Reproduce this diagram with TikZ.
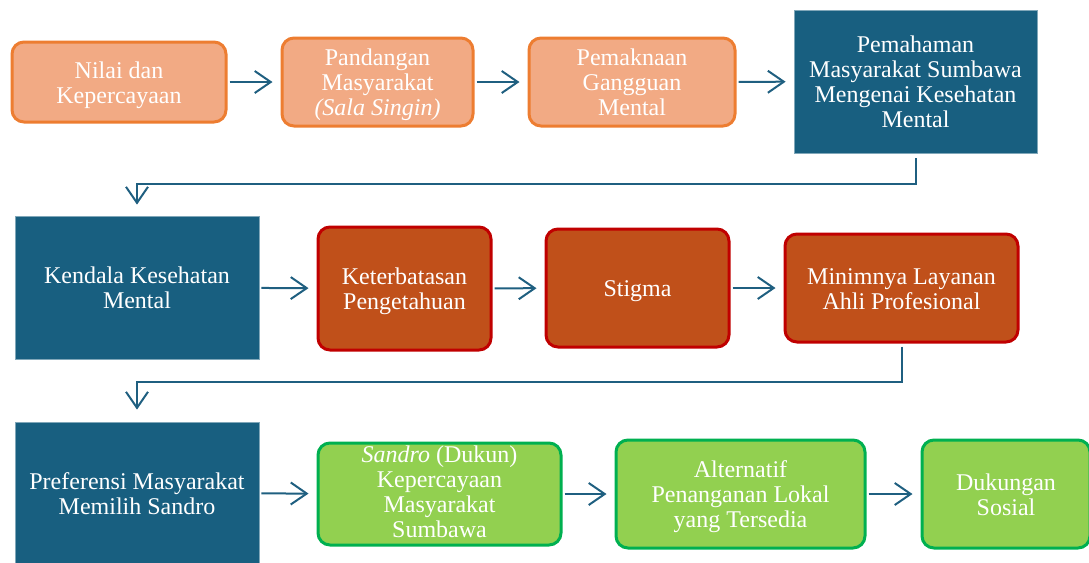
\documentclass[tikz,border=0pt]{standalone}
\usepackage{fontspec}
\setmainfont{Liberation Serif}
\usetikzlibrary{arrows.meta}
\definecolor{deepblue}{HTML}{185F80}
\definecolor{arrowblue}{HTML}{1F5F80}
\definecolor{peach}{HTML}{F2AA84}
\definecolor{peachline}{HTML}{ED7D31}
\definecolor{rust}{HTML}{C0501A}
\definecolor{rustline}{HTML}{C00000}
\definecolor{leaf}{HTML}{92D050}
\definecolor{leafline}{HTML}{00B050}
\newcommand{\boxlabel}[2][3.5pt]{\raisebox{0pt}[\dimexpr\height+#1\relax][\depth]{\begin{tabular}{@{}c@{}}#2\end{tabular}}}

\begin{document}
\begin{tikzpicture}[x=0.5pt,y=-0.5pt]
\tikzset{
  every node/.style={font=\fontsize{12}{12.5}\selectfont, text=white, align=center, inner sep=0pt},
  peachbox/.style={draw=peachline, fill=peach, line width=1.5pt, rounded corners=6pt},
  rustbox/.style={draw=rustline, fill=rust, line width=1.5pt, rounded corners=6pt},
  leafbox/.style={draw=leafline, fill=leaf, line width=1.5pt, rounded corners=6pt},
  bluebox/.style={draw=deepblue!55!white, fill=deepblue, line width=0.4pt},
  flow/.style={draw=arrowblue, line width=1pt, -{Straight Barb[length=8pt,width=11pt,line width=1pt]}, shorten <=1pt, shorten >=4pt}
}
\useasboundingbox (0,0) rectangle (1089,563);
% baris pertama
\node[peachbox, minimum width=107pt, minimum height=40pt] (nilai) at (119,82) {\boxlabel{Nilai dan\\Kepercayaan}};
\node[peachbox, minimum width=95.5pt, minimum height=44pt] (pandangan) at (377.5,82) {\boxlabel{Pandangan\\Masyarakat\\\textit{(Sala Singin)}}};
\node[peachbox, minimum width=103pt, minimum height=44pt] (makna) at (632,82) {\boxlabel{Pemaknaan\\Gangguan\\Mental}};
\node[bluebox, minimum width=121.5pt, minimum height=71.5pt] (paham) at (915.5,81.5) {\boxlabel{Pemahaman\\Masyarakat Sumbawa\\Mengenai Kesehatan\\Mental}};
% baris kedua
\node[bluebox, minimum width=122pt, minimum height=71.5pt] (kendala) at (137,287.5) {\boxlabel{Kendala Kesehatan\\Mental}};
\node[rustbox, minimum width=86.5pt, minimum height=61.5pt] (batas) at (404.5,288.5) {\boxlabel{Keterbatasan\\Pengetahuan}};
\node[rustbox, minimum width=91.5pt, minimum height=59pt] (stigma) at (637.5,288) {\boxlabel{Stigma}};
\node[rustbox, minimum width=116.5pt, minimum height=54pt] (layanan) at (901.5,288) {\boxlabel{Minimnya Layanan\\Ahli Profesional}};
% baris ketiga
\node[bluebox, minimum width=122pt, minimum height=71pt] (preferensi) at (137,493) {\boxlabel{Preferensi Masyarakat\\Memilih Sandro}};
\node[leafbox, minimum width=121.5pt, minimum height=51pt] (sandro) at (439.5,494) {\boxlabel[1pt]{\textit{Sandro} (Dukun)\\Kepercayaan\\Masyarakat\\Sumbawa}};
\node[leafbox, minimum width=124.5pt, minimum height=54pt] (alternatif) at (740.5,494) {\boxlabel{Alternatif\\Penanganan Lokal\\yang Tersedia}};
\node[leafbox, minimum width=84pt, minimum height=54pt] (dukungan) at (1006,494) {\boxlabel{Dukungan\\Sosial}};
% panah
\draw[flow] (nilai) -- (pandangan);
\draw[flow] (pandangan) -- (makna);
\draw[flow] (makna) -- (paham);
\draw[flow, shorten <=2.5pt, shorten >=5.5pt] (paham.south) -- ++(0,31) -| (kendala.north);
\draw[flow] (kendala) -- (batas);
\draw[flow] (batas) -- (stigma);
\draw[flow] (stigma) -- (layanan);
\draw[flow, shorten <=1.5pt, shorten >=6pt] (layanan.south) -- ++(0,38) -| (preferensi.north);
\draw[flow] (preferensi) -- (sandro);
\draw[flow] (sandro) -- (alternatif);
\draw[flow] (alternatif) -- (dukungan);
\end{tikzpicture}
\end{document}
